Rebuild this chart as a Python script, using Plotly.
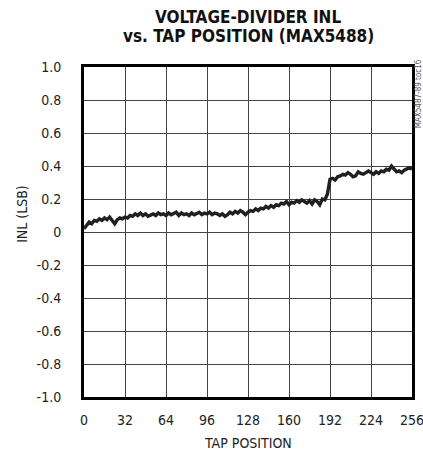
import plotly.graph_objects as go

# Data: INL (LSB) at every 2nd tap position
tap = list(range(0, 257, 2))
inl = [
    0.02, 0.04, 0.06, 0.05, 0.07, 0.065, 0.08, 0.07, 0.085, 0.075, 0.09, 0.07, 0.05, 0.075, 0.085, 0.08,
    0.09, 0.085, 0.10, 0.095, 0.11, 0.10, 0.115, 0.10, 0.11, 0.095, 0.105, 0.11, 0.10, 0.115, 0.105, 0.11,
    0.10, 0.115, 0.105, 0.11, 0.12, 0.10, 0.115, 0.105, 0.11, 0.10, 0.115, 0.105, 0.11, 0.12, 0.105, 0.115,
    0.11, 0.12, 0.105, 0.115, 0.11, 0.10, 0.11, 0.095, 0.105, 0.12, 0.11, 0.125, 0.115, 0.13, 0.12, 0.105,
    0.12, 0.13, 0.125, 0.14, 0.13, 0.145, 0.14, 0.155, 0.145, 0.16, 0.15, 0.165, 0.16, 0.175, 0.17, 0.185,
    0.165, 0.18, 0.175, 0.19, 0.18, 0.195, 0.185, 0.175, 0.19, 0.17, 0.195, 0.185, 0.165, 0.20, 0.195, 0.23,
    0.32, 0.325, 0.315, 0.335, 0.34, 0.35, 0.345, 0.36, 0.35, 0.335, 0.34, 0.365, 0.355, 0.35, 0.36, 0.37,
    0.36, 0.35, 0.365, 0.355, 0.37, 0.365, 0.38, 0.375, 0.40, 0.38, 0.365, 0.37, 0.36, 0.375, 0.385, 0.39, 0.38,
]

x_ticks = [0, 32, 64, 96, 128, 160, 192, 224, 256]
y_ticks = [1.0, 0.8, 0.6, 0.4, 0.2, 0.0, -0.2, -0.4, -0.6, -0.8, -1.0]
y_tick_text = ["1.0", "0.8", "0.6", "0.4", "0.2", "0", "-0.2", "-0.4", "-0.6", "-0.8", "-1.0"]

title_lines = ["VOLTAGE-DIVIDER INL", "vs. TAP POSITION (MAX5488)"]
x_title = "TAP POSITION"
y_title = "INL (LSB)"
watermark = "MAX5487-89 toc16"

FONT = "DejaVu Sans Condensed, Liberation Sans Narrow, Arial Narrow, sans-serif"

fig = go.Figure()
fig.add_trace(go.Scatter(
    x=tap, y=inl, mode="lines",
    line=dict(color="#231f20", width=3.4),
    showlegend=False,
))

axis_common = dict(
    showgrid=True, gridcolor="#444444", gridwidth=1,
    showline=True, linecolor="black", linewidth=3, mirror=True,
    zeroline=False, ticks="", automargin=False, ticklabeloverflow="allow",
    tickfont=dict(family=FONT, size=14, color="#222222"),
)

fig.update_xaxes(range=[0, 256], tickvals=x_ticks, ticktext=[str(v) for v in x_ticks],
                 ticklabelstandoff=8, **axis_common)
fig.update_yaxes(range=[-1.0, 1.0], tickvals=y_ticks, ticktext=y_tick_text,
                 ticklabelstandoff=17, **axis_common)

annotations = [
    dict(text="<b>" + title_lines[0] + "</b>", x=0.5, y=1.152, xref="paper", yref="paper",
         xanchor="center", yanchor="middle", showarrow=False,
         font=dict(family=FONT, size=17, color="#111111")),
    dict(text="<b>" + title_lines[1] + "</b>", x=0.5, y=1.095, xref="paper", yref="paper",
         xanchor="center", yanchor="middle", showarrow=False,
         font=dict(family=FONT, size=17, color="#111111")),
    dict(text=x_title, x=0.5, y=-0.14, xref="paper", yref="paper",
         xanchor="center", yanchor="middle", showarrow=False,
         font=dict(family=FONT, size=14, color="#222222")),
    dict(text=y_title, x=-0.189, y=0.555, xref="paper", yref="paper",
         xanchor="center", yanchor="middle", showarrow=False, textangle=-90,
         font=dict(family=FONT, size=14, color="#222222")),
    dict(text=watermark, x=1.018, y=0.92, xref="paper", yref="paper",
         xanchor="center", yanchor="middle", showarrow=False, textangle=-90,
         font=dict(family=FONT, size=8, color="#555555")),
]

fig.update_layout(
    width=423, height=457,
    margin=dict(l=84, r=11, t=67, b=60),
    paper_bgcolor="white", plot_bgcolor="white",
    annotations=annotations,
)

# Remove the default page margin so the 423x457 figure fills the window exactly.
fig.write_html(
    "out.html",
    config={"displayModeBar": False},
    post_script="document.body.style.margin='0';document.body.style.overflow='hidden';",
)
